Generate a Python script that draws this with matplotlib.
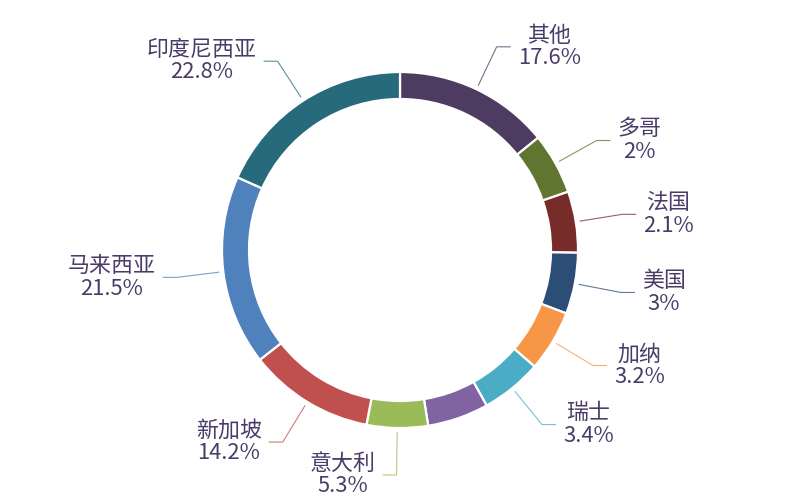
import numpy as np
import matplotlib
matplotlib.use('Agg')
import matplotlib.pyplot as plt

plt.rcParams['font.family'] = ['Noto Sans CJK SC', 'DejaVu Sans']

# slices in clockwise order starting from the top; the purple one has no visible label
names = ['其他', '多哥', '法国', '美国', '加纳', '瑞士', '', '意大利', '新加坡', '马来西亚', '印度尼西亚']
values = [17.6, 2, 2.1, 3, 3.2, 3.4, 4.9, 5.3, 14.2, 21.5, 22.8]
colors = ['#4d3b62', '#5f7530', '#772c2a', '#2c4d75', '#f79646', '#4bacc6',
          '#8064a2', '#9bbb59', '#c0504d', '#4f81bd', '#276a7c']

text_color = '#4a3c68'
min_angle = 20.0  # small slices get at least this many degrees

# stretch small slices to min_angle, share the rest by value
vals = np.array(values, dtype=float)
ang = vals / vals.sum() * 360
small = ang < min_angle
rest = 360 - min_angle * small.sum()
ang = np.where(small, min_angle, vals / vals[~small].sum() * rest)

fig = plt.figure(figsize=[8, 5], dpi=100)
ax = fig.add_axes([0, 0, 1, 1])

cx, cy = 400, 250
r_out = 178
wedges, _ = ax.pie(ang, colors=colors, startangle=90, counterclock=False,
                   center=(cx, cy), radius=r_out, frame=True,
                   wedgeprops=dict(width=27, edgecolor='white', linewidth=1.6))
ax.set_xlim(0, 800)
ax.set_ylim(0, 500)
ax.set_aspect('equal')
ax.axis('off')

for w, name, val, col in zip(wedges, names, values, colors):
    if not name:
        continue
    mid = np.deg2rad((w.theta1 + w.theta2) / 2)
    c, s = np.cos(mid), np.sin(mid)
    side = 1 if c >= 0 else -1
    x0, y0 = cx + 182 * c, cy + 182 * s
    x1, y1 = cx + 225 * c, cy + 225 * s
    x2 = x1 + 14 * side
    ax.plot([x0, x1, x2], [y0, y1, y1], color=col, alpha=0.75, lw=0.8,
            solid_capstyle='butt')
    ax.text(x2 + 7 * side, y1, f'{name}\n{val:g}%', color=text_color,
            fontsize=15.8, ha='left' if side > 0 else 'right', va='center',
            multialignment='center', linespacing=1.02)

fig.savefig('out.png', dpi=100)
